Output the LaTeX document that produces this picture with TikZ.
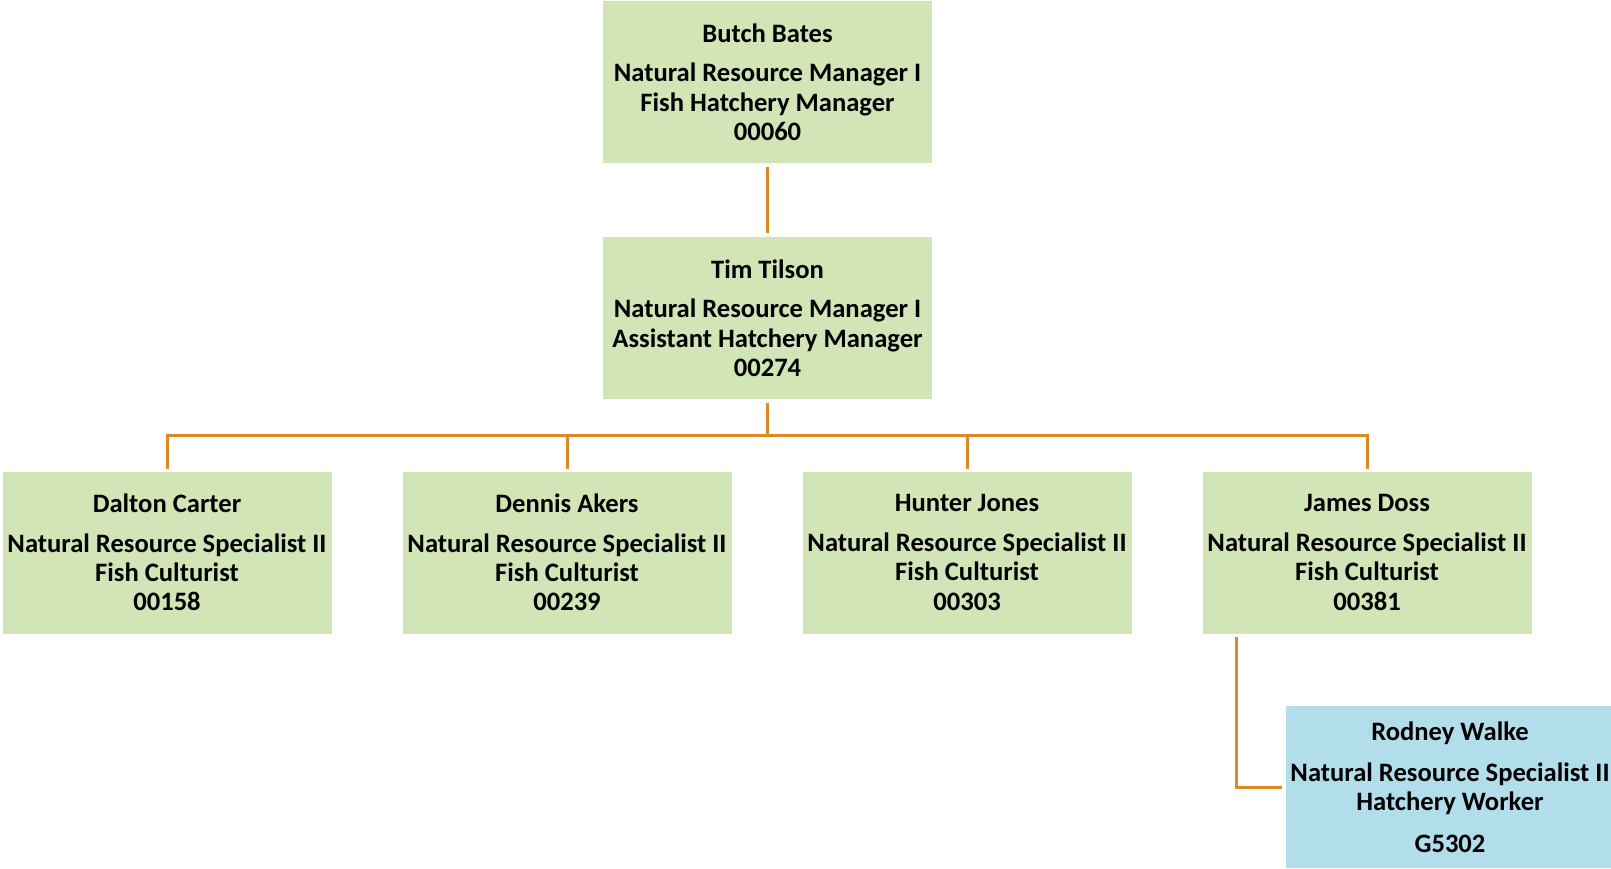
\documentclass[tikz,border=0pt]{standalone}
\usepackage{fontspec}
\setmainfont{Carlito}
\definecolor{boxgreen}{HTML}{D1E5B6}
\definecolor{boxblue}{HTML}{B1DEEA}
\definecolor{linkorange}{HTML}{DA8A22}
\tikzset{
  person/.style={fill=boxgreen, minimum width=164.5pt, minimum height=81pt, inner sep=0pt,
    align=center, font=\fontsize{13.3}{14.6}\selectfont\bfseries},
  helper/.style={person, fill=boxblue},
  link/.style={draw=linkorange, line width=1.5pt}
}
\begin{document}
\begin{tikzpicture}[x=1pt,y=1pt]
\useasboundingbox (0,0) rectangle (805.5,-434);
\node[person] (bb) at (383.75,-41) {Butch Bates\\[5.3pt]Natural Resource Manager I\\Fish Hatchery Manager\\00060};
\node[person] (tt) at (383.75,-159) {Tim Tilson\\[5.3pt]Natural Resource Manager I\\Assistant Hatchery Manager\\00274};
\node[person] (dc) at (83.5,-276.25) {Dalton Carter\\[5.3pt]Natural Resource Specialist II\\Fish Culturist\\00158};
\node[person] (da) at (283.5,-276.25) {Dennis Akers\\[5.3pt]Natural Resource Specialist II\\Fish Culturist\\00239};
\node[person] (hj) at (483.5,-276.25) {Hunter Jones\\[5.3pt]Natural Resource Specialist II\\Fish Culturist\\00303};
\node[person] (jd) at (683.5,-276.25) {James Doss\\[5.3pt]Natural Resource Specialist II\\Fish Culturist\\00381};
\node[helper] (rw) at (725,-393.5) {Rodney Walke\\[6.2pt]Natural Resource Specialist II\\Hatchery Worker\\[6.2pt]G5302};
\draw[link, shorten <=2pt, shorten >=2pt] (bb.south) -- (tt.north);
\coordinate (bus) at (383.75,-217.5);
\draw[link] ([yshift=-2pt]tt.south) -- (bus);
\foreach \c in {dc,da,hj,jd}{
  \draw[link, shorten >=1pt] (bus) -| (\c.north);
}
\draw[link, shorten <=1.5pt, shorten >=1.5pt] ([xshift=-65.5pt]jd.south) |- (rw.west);
\end{tikzpicture}
\end{document}
